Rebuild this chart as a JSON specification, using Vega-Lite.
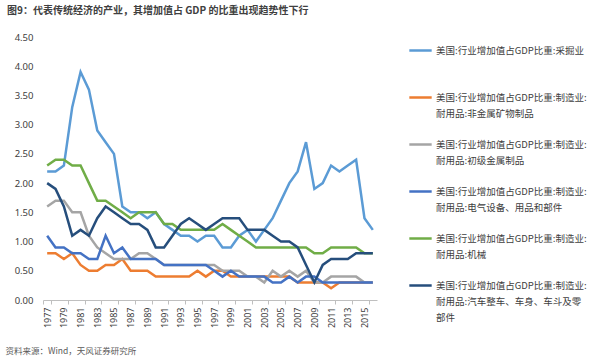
{
  "$schema": "https://vega.github.io/schema/vega-lite/v6.json",
  "width": 334,
  "height": 263,
  "autosize": {"type": "none"},
  "padding": {"left": 43, "top": 37, "right": 223, "bottom": 61},
  "background": "white",
  "title": {
    "text": "图9：代表传统经济的产业，其增加值占 GDP 的比重出现趋势性下行",
    "anchor": "start",
    "frame": "group",
    "dx": -36,
    "offset": 6,
    "fontSize": 10,
    "fontWeight": "bold",
    "color": "#404040",
    "font": "Noto Sans CJK SC",
    "baseline": "bottom"
  },
  "data": {
    "values": [
      {"year": 1977, "mining": 2.2, "nonmetal": 0.8, "metal": 1.6, "electrical": 1.1, "machinery": 2.3, "auto": 2.0},
      {"year": 1978, "mining": 2.2, "nonmetal": 0.8, "metal": 1.7, "electrical": 0.9, "machinery": 2.4, "auto": 1.9},
      {"year": 1979, "mining": 2.3, "nonmetal": 0.7, "metal": 1.7, "electrical": 0.9, "machinery": 2.4, "auto": 1.6},
      {"year": 1980, "mining": 3.3, "nonmetal": 0.8, "metal": 1.5, "electrical": 0.8, "machinery": 2.3, "auto": 1.1},
      {"year": 1981, "mining": 3.9, "nonmetal": 0.6, "metal": 1.5, "electrical": 0.8, "machinery": 2.3, "auto": 1.2},
      {"year": 1982, "mining": 3.6, "nonmetal": 0.5, "metal": 1.1, "electrical": 0.7, "machinery": 2.0, "auto": 1.1},
      {"year": 1983, "mining": 2.9, "nonmetal": 0.5, "metal": 0.9, "electrical": 0.7, "machinery": 1.7, "auto": 1.4},
      {"year": 1984, "mining": 2.7, "nonmetal": 0.6, "metal": 0.8, "electrical": 1.1, "machinery": 1.7, "auto": 1.6},
      {"year": 1985, "mining": 2.5, "nonmetal": 0.6, "metal": 0.7, "electrical": 0.8, "machinery": 1.6, "auto": 1.5},
      {"year": 1986, "mining": 1.6, "nonmetal": 0.7, "metal": 0.7, "electrical": 0.9, "machinery": 1.5, "auto": 1.4},
      {"year": 1987, "mining": 1.5, "nonmetal": 0.5, "metal": 0.7, "electrical": 0.7, "machinery": 1.4, "auto": 1.3},
      {"year": 1988, "mining": 1.5, "nonmetal": 0.5, "metal": 0.8, "electrical": 0.7, "machinery": 1.5, "auto": 1.3},
      {"year": 1989, "mining": 1.4, "nonmetal": 0.5, "metal": 0.8, "electrical": 0.7, "machinery": 1.5, "auto": 1.2},
      {"year": 1990, "mining": 1.5, "nonmetal": 0.4, "metal": 0.7, "electrical": 0.7, "machinery": 1.5, "auto": 0.9},
      {"year": 1991, "mining": 1.3, "nonmetal": 0.4, "metal": 0.6, "electrical": 0.6, "machinery": 1.3, "auto": 0.9},
      {"year": 1992, "mining": 1.2, "nonmetal": 0.4, "metal": 0.6, "electrical": 0.6, "machinery": 1.3, "auto": 1.1},
      {"year": 1993, "mining": 1.1, "nonmetal": 0.4, "metal": 0.6, "electrical": 0.6, "machinery": 1.2, "auto": 1.3},
      {"year": 1994, "mining": 1.1, "nonmetal": 0.4, "metal": 0.6, "electrical": 0.6, "machinery": 1.2, "auto": 1.4},
      {"year": 1995, "mining": 1.0, "nonmetal": 0.5, "metal": 0.6, "electrical": 0.6, "machinery": 1.2, "auto": 1.3},
      {"year": 1996, "mining": 1.1, "nonmetal": 0.4, "metal": 0.6, "electrical": 0.6, "machinery": 1.2, "auto": 1.2},
      {"year": 1997, "mining": 1.1, "nonmetal": 0.5, "metal": 0.6, "electrical": 0.5, "machinery": 1.2, "auto": 1.3},
      {"year": 1998, "mining": 0.9, "nonmetal": 0.5, "metal": 0.5, "electrical": 0.4, "machinery": 1.3, "auto": 1.4},
      {"year": 1999, "mining": 0.9, "nonmetal": 0.4, "metal": 0.5, "electrical": 0.5, "machinery": 1.2, "auto": 1.4},
      {"year": 2000, "mining": 1.1, "nonmetal": 0.4, "metal": 0.5, "electrical": 0.4, "machinery": 1.1, "auto": 1.4},
      {"year": 2001, "mining": 1.2, "nonmetal": 0.4, "metal": 0.4, "electrical": 0.4, "machinery": 1.0, "auto": 1.2},
      {"year": 2002, "mining": 1.0, "nonmetal": 0.4, "metal": 0.4, "electrical": 0.4, "machinery": 0.9, "auto": 1.2},
      {"year": 2003, "mining": 1.2, "nonmetal": 0.4, "metal": 0.3, "electrical": 0.4, "machinery": 0.9, "auto": 1.2},
      {"year": 2004, "mining": 1.4, "nonmetal": 0.4, "metal": 0.5, "electrical": 0.3, "machinery": 0.9, "auto": 1.1},
      {"year": 2005, "mining": 1.7, "nonmetal": 0.4, "metal": 0.4, "electrical": 0.3, "machinery": 0.9, "auto": 1.0},
      {"year": 2006, "mining": 2.0, "nonmetal": 0.4, "metal": 0.5, "electrical": 0.4, "machinery": 0.9, "auto": 1.0},
      {"year": 2007, "mining": 2.2, "nonmetal": 0.3, "metal": 0.4, "electrical": 0.3, "machinery": 0.9, "auto": 0.9},
      {"year": 2008, "mining": 2.7, "nonmetal": 0.3, "metal": 0.5, "electrical": 0.4, "machinery": 0.9, "auto": 0.6},
      {"year": 2009, "mining": 1.9, "nonmetal": 0.3, "metal": 0.3, "electrical": 0.4, "machinery": 0.8, "auto": 0.3},
      {"year": 2010, "mining": 2.0, "nonmetal": 0.3, "metal": 0.3, "electrical": 0.3, "machinery": 0.8, "auto": 0.6},
      {"year": 2011, "mining": 2.3, "nonmetal": 0.2, "metal": 0.4, "electrical": 0.3, "machinery": 0.9, "auto": 0.7},
      {"year": 2012, "mining": 2.2, "nonmetal": 0.3, "metal": 0.4, "electrical": 0.3, "machinery": 0.9, "auto": 0.7},
      {"year": 2013, "mining": 2.3, "nonmetal": 0.3, "metal": 0.4, "electrical": 0.3, "machinery": 0.9, "auto": 0.7},
      {"year": 2014, "mining": 2.4, "nonmetal": 0.3, "metal": 0.4, "electrical": 0.3, "machinery": 0.9, "auto": 0.8},
      {"year": 2015, "mining": 1.4, "nonmetal": 0.3, "metal": 0.3, "electrical": 0.3, "machinery": 0.8, "auto": 0.8},
      {"year": 2016, "mining": 1.2, "nonmetal": 0.3, "metal": 0.3, "electrical": 0.3, "machinery": 0.8, "auto": 0.8}
    ]
  },
  "transform": [
    {"fold": ["mining", "nonmetal", "metal", "electrical", "machinery", "auto"], "as": ["series", "value"]}
  ],
  "mark": {"type": "line", "strokeWidth": 2.5},
  "encoding": {
    "x": {
      "field": "year",
      "type": "ordinal",
      "bandPosition": 0.5,
      "scale": {"type": "band", "paddingInner": 0, "paddingOuter": 0},
      "axis": {
        "values": [1977, 1979, 1981, 1983, 1985, 1987, 1989, 1991, 1993, 1995, 1997, 1999, 2001, 2003, 2005, 2007, 2009, 2011, 2013, 2015],
        "labelAngle": 270,
        "labelFontSize": 9,
        "labelColor": "#404040",
        "labelFont": "Noto Sans",
        "tickBand": "extent",
        "tickSize": 4,
        "tickColor": "#BFBFBF",
        "domainColor": "#BFBFBF",
        "labelPadding": 3,
        "grid": false,
        "title": "资料来源：Wind，天风证券研究所",
        "titleX": -38,
        "titleY": 50,
        "titleAlign": "left",
        "titleAnchor": "start",
        "titleBaseline": "middle",
        "titleFontSize": 8.5,
        "titleFontWeight": "normal",
        "titleColor": "#595959",
        "titleFont": "Noto Sans CJK SC"
      }
    },
    "y": {
      "field": "value",
      "type": "quantitative",
      "scale": {"domain": [0, 4.5], "nice": false},
      "axis": {
        "values": [0, 0.5, 1, 1.5, 2, 2.5, 3, 3.5, 4, 4.5],
        "format": ".2f",
        "grid": false,
        "domain": false,
        "ticks": false,
        "labelPadding": 10,
        "labelFontSize": 9.5,
        "labelColor": "#404040",
        "labelFont": "Noto Sans",
        "title": null
      }
    },
    "color": {
      "field": "series",
      "type": "nominal",
      "scale": {
        "domain": ["mining", "nonmetal", "metal", "electrical", "machinery", "auto"],
        "range": ["#5B9BD5", "#ED7D31", "#A5A5A5", "#4472C4", "#70AD47", "#264E7C"]
      },
      "legend": {
        "orient": "none",
        "legendX": 365,
        "legendY": 1,
        "title": null,
        "padding": 0,
        "symbolType": "stroke",
        "symbolSize": 500,
        "symbolStrokeWidth": 2.5,
        "labelFontSize": 9.5,
        "labelColor": "#404040",
        "labelFont": "Noto Sans CJK SC",
        "labelLimit": 400,
        "labelOffset": 3,
        "rowPadding": 14,
        "labelExpr": "datum.value == 'mining' ? ['美国:行业增加值占GDP比重:采掘业', ''] : datum.value == 'nonmetal' ? ['美国:行业增加值占GDP比重:制造业:', '耐用品:非金属矿物制品'] : datum.value == 'metal' ? ['美国:行业增加值占GDP比重:制造业:', '耐用品:初级金属制品'] : datum.value == 'electrical' ? ['美国:行业增加值占GDP比重:制造业:', '耐用品:电气设备、用品和部件'] : datum.value == 'machinery' ? ['美国:行业增加值占GDP比重:制造业:', '耐用品:机械'] : ['美国:行业增加值占GDP比重:制造业:', '耐用品:汽车整车、车身、车斗及零', '部件']"
      }
    }
  },
  "config": {
    "view": {"stroke": null},
    "font": "Noto Sans CJK SC",
    "style": {"guide-label": {"lineHeight": 16}}
  }
}
